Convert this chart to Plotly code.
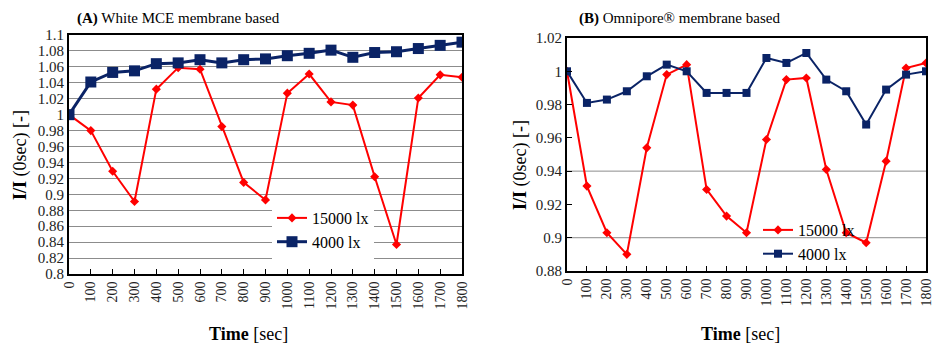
import plotly.graph_objects as go

time_s = [0, 100, 200, 300, 400, 500, 600, 700, 800, 900, 1000, 1100, 1200, 1300, 1400, 1500, 1600, 1700, 1800]

a_15000 = [1.0, 0.980, 0.929, 0.891, 1.032, 1.059, 1.057, 0.985, 0.915, 0.893, 1.027, 1.051, 1.016, 1.012, 0.922, 0.837, 1.021, 1.050, 1.047]
a_4000 = [1.0, 1.041, 1.053, 1.055, 1.064, 1.065, 1.069, 1.065, 1.069, 1.070, 1.074, 1.077, 1.081, 1.072, 1.078, 1.079, 1.083, 1.087, 1.091]

b_15000 = [1.0, 0.931, 0.903, 0.890, 0.954, 0.998, 1.004, 0.929, 0.913, 0.903, 0.959, 0.995, 0.996, 0.941, 0.903, 0.897, 0.946, 1.002, 1.005]
b_4000 = [1.0, 0.981, 0.983, 0.988, 0.997, 1.004, 1.000, 0.987, 0.987, 0.987, 1.008, 1.005, 1.011, 0.995, 0.988, 0.968, 0.989, 0.998, 1.000]

a_yticks = [0.8, 0.82, 0.84, 0.86, 0.88, 0.9, 0.92, 0.94, 0.96, 0.98, 1.0, 1.02, 1.04, 1.06, 1.08, 1.1]
a_yticktext = ["0.8", "0.82", "0.84", "0.86", "0.88", "0.9", "0.92", "0.94", "0.96", "0.98", "1", "1.02", "1.04", "1.06", "1.08", "1.1"]
b_yticks = [0.88, 0.9, 0.92, 0.94, 0.96, 0.98, 1.0, 1.02]
b_yticktext = ["0.88", "0.9", "0.92", "0.94", "0.96", "0.98", "1", "1.02"]
b_gridlines = [0.9, 0.94]

RED = "#ff0000"
NAVY = "#0a2366"
FONT = "Liberation Serif"

fig = go.Figure()

fig.add_trace(go.Scatter(x=time_s, y=a_15000, name="15000 lx", mode="lines+markers",
                         line=dict(color=RED, width=2), marker=dict(symbol="diamond", size=7, color=RED),
                         xaxis="x", yaxis="y", legend="legend"))
fig.add_trace(go.Scatter(x=time_s, y=a_4000, name="4000 lx", mode="lines+markers",
                         line=dict(color=NAVY, width=3), marker=dict(symbol="square", size=11, color=NAVY),
                         xaxis="x", yaxis="y", legend="legend"))
fig.add_trace(go.Scatter(x=time_s, y=b_15000, name="15000 lx", mode="lines+markers",
                         line=dict(color=RED, width=2), marker=dict(symbol="diamond", size=7, color=RED),
                         xaxis="x2", yaxis="y2", legend="legend2"))
fig.add_trace(go.Scatter(x=time_s, y=b_4000, name="4000 lx", mode="lines+markers",
                         line=dict(color=NAVY, width=2), marker=dict(symbol="square", size=8, color=NAVY),
                         xaxis="x2", yaxis="y2", legend="legend2"))

H = 349.0
W = 934.0

xcommon = dict(range=[0, 1800], tickmode="array", tickvals=time_s, ticktext=[str(t) for t in time_s],
               tickangle=-90, ticks="inside", ticklen=5, tickcolor="black", showgrid=False,
               showline=True, linecolor="black", linewidth=2, mirror=True, zeroline=False,
               automargin=False, ticklabeloverflow="allow",
               tickfont=dict(family=FONT, size=14, color="#222"))

fig.update_layout(
    width=934, height=349,
    margin=dict(l=0, r=0, t=0, b=0),
    paper_bgcolor="white", plot_bgcolor="white",
    font=dict(family=FONT, color="black"),
    xaxis=dict(domain=[69 / W, 462 / W], anchor="y", **xcommon),
    yaxis=dict(domain=[(H - 274) / H, (H - 35) / H], anchor="x", range=[0.8, 1.1],
               tickmode="array", tickvals=a_yticks, ticktext=a_yticktext,
               showgrid=True, gridcolor="#8c8c8c", gridwidth=1, ticks="",
               showline=True, linecolor="black", linewidth=2, mirror=True, zeroline=False,
               automargin=False,
               tickfont=dict(family=FONT, size=15, color="#222")),
    xaxis2=dict(domain=[567 / W, 926 / W], anchor="y2", **xcommon),
    yaxis2=dict(domain=[(H - 271) / H, (H - 38) / H], anchor="x2", range=[0.88, 1.02],
                tickmode="array", tickvals=b_yticks, ticktext=b_yticktext,
                showgrid=False, ticks="inside", ticklen=5, tickcolor="black",
                showline=True, linecolor="black", linewidth=2, mirror=True, zeroline=False,
                automargin=False,
                tickfont=dict(family=FONT, size=15, color="#222")),
    legend=dict(x=272 / W, y=(H - 201) / H, xanchor="left", yanchor="top",
                bgcolor="white", font=dict(family=FONT, size=16, color="black"),
                tracegroupgap=0, itemwidth=30),
    legend2=dict(x=758 / W, y=(H - 213) / H, xanchor="left", yanchor="top",
                 bgcolor="rgba(0,0,0,0)", font=dict(family=FONT, size=16, color="black"),
                 tracegroupgap=0, itemwidth=30),
    showlegend=True,
)

for g in b_gridlines:
    fig.add_shape(type="line", xref="x2 domain", yref="y2", x0=0, x1=1, y0=g, y1=g,
                  line=dict(color="#8c8c8c", width=1), layer="below")

annotations = [
    dict(x=75 / W, y=(H - 18) / H, text="<b>(A)</b> White MCE membrane based", xanchor="left", yanchor="middle",
         font=dict(size=15)),
    dict(x=577 / W, y=(H - 18) / H, text="<b>(B)</b> Omnipore® membrane based", xanchor="left", yanchor="middle",
         font=dict(size=15)),
    dict(x=248 / W, y=(H - 334) / H, text="<b>Time</b> [sec]", xanchor="center", yanchor="middle",
         font=dict(size=18)),
    dict(x=740 / W, y=(H - 334) / H, text="<b>Time</b> [sec]", xanchor="center", yanchor="middle",
         font=dict(size=18)),
    dict(x=20 / W, y=(H - 155) / H, text="<b>I/I</b> (0sec) [-]", textangle=-90, xanchor="center",
         yanchor="middle", font=dict(size=18)),
    dict(x=520 / W, y=(H - 165) / H, text="<b>I/I</b> (0sec) [-]", textangle=-90, xanchor="center",
         yanchor="middle", font=dict(size=18)),
]
for a in annotations:
    a.update(xref="paper", yref="paper", showarrow=False)
    a["font"]["family"] = FONT
    a["font"]["color"] = "black"
fig.update_layout(annotations=annotations)

fig.write_html("out.html", config={"displayModeBar": False},
               post_script="document.body.style.margin='0px';document.body.style.overflow='hidden';")
